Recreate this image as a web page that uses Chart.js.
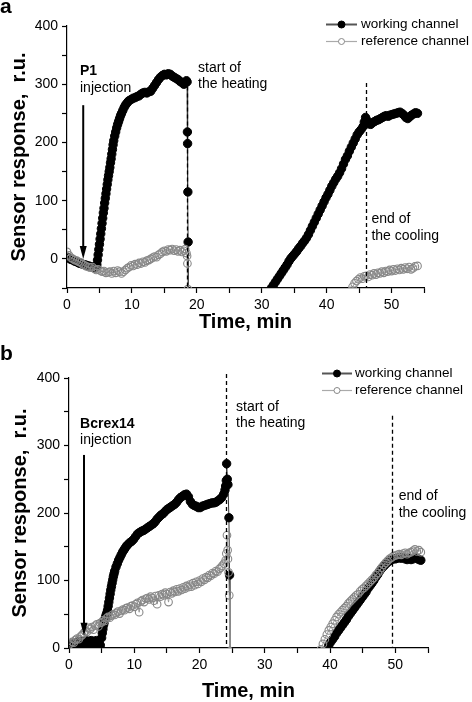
<!DOCTYPE html>
<html><head><meta charset="utf-8">
<script src="https://cdn.jsdelivr.net/npm/chart.js@4/dist/chart.umd.min.js"></script>
<style>
html,body{margin:0;padding:0;background:#fff;}
#wrap{position:relative;width:472px;height:702px;overflow:hidden;}
canvas{position:absolute;left:0;}
#c1{top:0;}
#c2{top:340px;}
</style></head><body>
<div id="wrap"><canvas id="c1" width="472" height="340"></canvas><canvas id="c2" width="472" height="362"></canvas></div>
<script>
// ---------------- data ----------------
const seriesLabels = ['working channel', 'reference channel'];
const axisTitleX = 'Time, min';
const axisTitleY = 'Sensor response,  r.u.';

// panel a (P1): [time min, response r.u.]
const aWorking = [
[0,3],[0.3,1],[0.6,-1],[0.9,-2],[1.2,-4],[1.5,-5],[1.8,-7],[2.1,-8],[2.4,-9],[2.7,-10],[3.0,-11],[3.3,-12],[3.6,-13],[3.9,-14],[4.2,-15],[4.5,-14],
[4.6,-10],[4.7,-2],[4.8,7],[4.9,16],[5.0,25],[5.1,34],[5.2,43],[5.3,52],[5.4,61],[5.5,70],[5.6,79],[5.7,87],[5.8,96],[5.9,104],[6.0,112],[6.1,120],[6.2,128],[6.3,136],[6.4,143],[6.5,150],[6.6,157],[6.7,165],[6.8,172],[6.9,180],[7.0,188],[7.1,196],[7.2,203],[7.35,211],[7.5,218],[7.65,225],[7.8,231],[7.95,236],[8.1,241],[8.25,246],[8.4,250],[8.6,255],[8.8,260],[9.0,264],[9.2,267],[9.4,270],[9.6,272],[9.9,274],[10.2,276],[10.5,277],[10.8,279],[11.1,280],[11.4,283],[11.7,285],[12.0,286],[12.3,285],[12.6,287],[12.9,288],[13.2,293],[13.5,298],[13.8,303],[14.1,308],[14.4,312],[14.7,315],[15.0,317],[15.3,316],[15.6,318],[15.9,317],[16.2,314],[16.5,312],[16.8,310],[17.1,308],[17.4,305],[17.7,303],[18.0,300],[18.2,302],[18.4,306],[18.5,304],
[18.55,218],[18.58,198],[18.62,115],[18.66,29],[18.72,-60],[25,null],
[31.3,-60],[31.5,-50],[31.8,-45],[32.1,-40],[32.4,-35],[32.7,-30],[33.0,-25],[33.3,-20],[33.6,-15],[33.9,-10],[34.2,-4],[34.5,1],[34.8,5],[35.1,9],[35.4,13],[35.7,18],[36.0,22],[36.3,27],[36.6,31],[36.9,36],[37.2,42],[37.5,49],[37.8,56],[38.1,63],[38.4,70],[38.7,77],[39.0,84],[39.3,91],[39.6,98],[39.9,105],[40.2,111],[40.5,118],[40.8,125],[41.1,131],[41.4,137],[41.7,142],[42.0,148],[42.3,155],[42.6,163],[42.9,171],[43.2,177],[43.5,185],[43.8,192],[44.1,199],[44.4,206],[44.7,213],[45.0,218],[45.3,222],[45.6,227],[45.8,235],[46.0,243],[46.2,238],[46.5,232],[46.8,231],[47.1,234],[47.4,236],[47.7,238],[48.0,239],[48.3,241],[48.6,243],[48.9,245],[49.2,246],[49.5,245],[49.8,247],[50.1,248],[50.4,249],[50.7,250],[51.0,251],[51.3,252],[51.6,250],[51.9,247],[52.2,243],[52.5,241],[52.8,244],[53.1,247],[53.4,249],[53.7,251],[54.0,250]
];
const aReference = [
[0,12],[0.3,6],[0.6,2],[0.9,0],[1.2,-2],[1.5,-3],[1.8,-5],[2.1,-6],[2.4,-9],[2.7,-11],[3.0,-13],[3.3,-14],[3.6,-15],[3.9,-14],[4.2,-17],[4.5,-19],[4.8,-18],[5.1,-20],[5.4,-22],[5.7,-21],[6.0,-24],[6.3,-23],[6.6,-22],[6.9,-25],[7.2,-21],[7.5,-24],[7.8,-20],[8.1,-22],[8.4,-25],[8.7,-22],[9.0,-19],[9.3,-16],[9.6,-14],[9.9,-11],[10.2,-12],[10.5,-9],[10.8,-10],[11.1,-7],[11.4,-8],[11.7,-5],[12.0,-6],[12.3,-3],[12.6,-2],[12.9,0],[13.2,2],[13.5,4],[13.8,3],[14.1,7],[14.4,9],[14.7,12],[15.0,14],[15.3,13],[15.6,16],[15.9,15],[16.2,17],[16.5,14],[16.8,16],[17.1,13],[17.4,15],[17.7,12],[18.0,14],[18.2,17],[18.4,10],[18.5,5],[18.55,-8],[18.62,-52],[25,null],
[43.8,-55],[44.0,-48],[44.3,-42],[44.6,-38],[44.9,-35],[45.2,-32],[45.5,-34],[45.8,-30],[46.1,-29],[46.4,-31],[46.7,-27],[47.0,-28],[47.3,-25],[47.6,-27],[47.9,-24],[48.2,-25],[48.5,-22],[48.8,-24],[49.1,-21],[49.4,-22],[49.7,-19],[50.0,-21],[50.3,-18],[50.6,-20],[50.9,-17],[51.2,-19],[51.5,-16],[51.8,-18],[52.1,-15],[52.4,-17],[52.7,-14],[53.0,-18],[53.3,-16],[53.6,-13],[54.0,-12]
];

// panel b (Bcrex14): [time min, response r.u.]
const bWorking = [
[0,3],[0.2,6],[0.4,2],[0.6,7],[0.8,4],[1.0,8],[1.2,3],[1.4,9],[1.6,5],[1.8,10],[2.0,4],[2.2,9],[2.4,6],[2.6,11],[2.8,5],[3.0,10],[3.2,6],[3.4,11],[3.6,5],[3.8,10],[4.0,6],[4.2,11],[4.4,5],[4.6,9],[4.8,4],
[5.0,15],[5.1,22],[5.2,28],[5.3,34],[5.4,38],[5.5,42],[5.6,46],[5.7,49],[5.8,52],[5.9,56],[6.0,62],[6.1,68],[6.2,74],[6.3,80],[6.4,86],[6.5,91],[6.6,96],[6.7,101],[6.8,106],[6.9,110],[7.0,114],[7.2,120],[7.4,125],[7.6,130],[7.8,134],[8.0,138],[8.2,142],[8.4,145],[8.6,148],[8.8,151],[9.0,153],[9.3,156],[9.6,158],[9.9,161],[10.2,165],[10.5,169],[10.8,171],[11.1,173],[11.4,174],[11.7,176],[12.0,178],[12.3,180],[12.6,182],[12.9,184],[13.2,187],[13.5,191],[13.8,194],[14.1,197],[14.4,199],[14.7,202],[15.0,205],[15.3,207],[15.6,209],[15.9,211],[16.2,213],[16.5,216],[16.8,220],[17.1,223],[17.4,225],[17.7,227],[18.0,228],[18.3,224],[18.6,217],[18.9,213],[19.2,211],[19.5,210],[19.8,208],[20.1,208],[20.4,210],[20.7,211],[21.0,212],[21.3,213],[21.6,214],[21.9,215],[22.2,215],[22.5,216],[22.8,218],[23.1,220],[23.4,223],[23.7,228],[23.9,234],[24.0,240],[24.1,248],[24.15,273],[24.25,250],[24.35,242],[24.5,193],[24.6,108],[24.65,-5],[30,null],
[39.5,-3],[39.8,4],[40.1,9],[40.4,13],[40.7,17],[41.0,22],[41.3,26],[41.6,30],[41.9,34],[42.2,38],[42.5,42],[42.8,47],[43.1,51],[43.4,55],[43.7,59],[44.0,63],[44.3,67],[44.6,71],[44.9,75],[45.2,79],[45.5,83],[45.8,88],[46.1,92],[46.4,96],[46.7,100],[47.0,105],[47.3,109],[47.6,114],[47.9,118],[48.2,121],[48.5,124],[48.8,127],[49.1,129],[49.4,131],[49.7,132],[50.0,132],[50.3,133],[50.6,134],[50.9,133],[51.2,134],[51.5,132],[51.8,131],[52.1,133],[52.4,131],[52.7,132],[53.0,134],[53.3,133],[53.6,131],[53.9,130]
];
const bReference = [
[0,5],[0.25,7],[0.5,9],[0.75,8],[1.0,12],[1.25,14],[1.5,13],[1.75,17],[2.0,19],[2.25,22],[2.5,25],[2.75,24],[3.0,30],[3.25,28],[3.5,31],[3.75,27],[4.0,33],[4.25,35],[4.5,32],[4.75,37],[5.0,38],[5.25,41],[5.5,40],[5.75,44],[6.0,46],[6.25,45],[6.5,48],[6.75,50],[7.0,49],[7.25,52],[7.5,54],[7.75,51],[8.0,55],[8.25,57],[8.5,56],[8.75,59],[9.0,60],[9.25,58],[9.5,62],[9.75,63],[10.0,61],[10.25,65],[10.5,67],[10.75,53],[11.0,69],[11.25,71],[11.5,68],[11.75,73],[12.0,74],[12.25,72],[12.5,76],[12.75,74],[13.0,70],[13.25,77],[13.5,65],[13.75,78],[14.0,76],[14.25,80],[14.5,78],[14.75,82],[15.0,80],[15.25,68],[15.5,83],[15.75,81],[16.0,85],[16.25,83],[16.5,87],[16.75,84],[17.0,88],[17.25,86],[17.5,90],[17.75,88],[18.0,92],[18.25,90],[18.5,94],[18.75,91],[19.0,96],[19.25,93],[19.5,98],[19.75,95],[20.0,100],[20.25,98],[20.5,103],[20.75,101],[21.0,105],[21.25,104],[21.5,108],[21.75,107],[22.0,111],[22.25,110],[22.5,114],[22.75,113],[23.0,117],[23.25,119],[23.5,122],[23.75,125],[24.0,130],[24.1,140],[24.2,167],[24.3,145],[24.35,132],[24.45,112],[24.55,78],[24.65,-5],[30,null],
[38.6,-2],[38.9,6],[39.2,13],[39.5,20],[39.8,26],[40.1,31],[40.4,36],[40.7,41],[41.0,46],[41.3,50],[41.6,53],[41.9,56],[42.2,59],[42.5,62],[42.8,66],[43.1,69],[43.4,72],[43.7,75],[44.0,78],[44.3,80],[44.6,84],[44.9,87],[45.2,89],[45.5,92],[45.8,95],[46.1,98],[46.4,101],[46.7,104],[47.0,108],[47.3,111],[47.6,115],[47.9,119],[48.2,123],[48.5,126],[48.8,129],[49.1,132],[49.4,134],[49.7,136],[50.0,137],[50.3,138],[50.6,139],[50.9,138],[51.2,140],[51.5,141],[51.8,139],[52.1,141],[52.4,142],[52.7,144],[53.0,146],[53.3,143],[53.6,145],[53.9,142]
];

// ---------------- drawing ----------------
const FONT = 'Arial, "Liberation Sans", Helvetica, sans-serif';

const decor = {
  id: 'decor',
  afterDatasetsDraw(chart, args, o) {
    const {ctx} = chart;
    const x = chart.scales.x, y = chart.scales.y;
    ctx.save();
    ctx.strokeStyle = '#000'; ctx.fillStyle = '#000';
    // dashed markers
    ctx.lineWidth = 1.3; ctx.setLineDash([4, 3]);
    o.dashed.forEach(d => {
      const px = Math.round(x.getPixelForValue(d.x)) + 0.5;
      ctx.beginPath(); ctx.moveTo(px, y.getPixelForValue(d.from)); ctx.lineTo(px, y.getPixelForValue(d.to)); ctx.stroke();
    });
    ctx.setLineDash([]);
    // injection arrow
    const a = o.arrow;
    const ax = x.getPixelForValue(a.x), y0 = y.getPixelForValue(a.from), y1 = y.getPixelForValue(a.to);
    ctx.lineWidth = 2;
    ctx.beginPath(); ctx.moveTo(ax, y0); ctx.lineTo(ax, y1 - 10); ctx.stroke();
    ctx.beginPath(); ctx.moveTo(ax - 3.5, y1 - 13); ctx.lineTo(ax + 3.5, y1 - 13); ctx.lineTo(ax, y1); ctx.closePath(); ctx.fill();
    // texts
    ctx.textAlign = 'left'; ctx.textBaseline = 'alphabetic';
    o.texts.forEach(t => {
      ctx.font = (t.bold ? 'bold ' : '') + '14px ' + FONT;
      ctx.fillText(t.text, x.getPixelForValue(t.x), y.getPixelForValue(t.y));
    });
    // legend
    const L = o.legend;
    chart.data.datasets.forEach((ds, i) => {
      const ly = L.ys[i] + 0.5;
      ctx.strokeStyle = ds.legendLine; ctx.lineWidth = ds.legendLineWidth;
      ctx.beginPath(); ctx.moveTo(L.x1, ly); ctx.lineTo(L.x2, ly); ctx.stroke();
      const mx = (L.x1 + L.x2) / 2;
      ctx.beginPath(); ctx.arc(mx, ly, ds.legendRadius, 0, Math.PI * 2);
      ctx.fillStyle = ds.legendFill; ctx.fill();
      ctx.strokeStyle = ds.pointBorderColor; ctx.lineWidth = 1; ctx.stroke();
      ctx.fillStyle = '#000'; ctx.font = '13.5px ' + FONT; ctx.textBaseline = 'middle';
      ctx.fillText(ds.label, L.textX, ly);
    });
    // panel letter
    ctx.textBaseline = 'alphabetic';
    ctx.font = 'bold 21px ' + FONT; ctx.fillStyle = '#000';
    ctx.fillText(o.letter, 0, o.letterY);
    ctx.restore();
  }
};

function makeDatasets(work, ref) {
  return [
    {
      label: seriesLabels[0],
      data: work.map(p => ({x: p[0], y: p[1]})),
      borderColor: '#333', borderWidth: 1,
      pointRadius: 4.2, pointBackgroundColor: '#000', pointBorderColor: '#000', pointBorderWidth: 1,
      legendLine: '#555', legendLineWidth: 2, legendFill: '#000', legendRadius: 3.5,
      order: 1, spanGaps: false, tension: 0
    },
    {
      label: seriesLabels[1],
      data: ref.map(p => ({x: p[0], y: p[1]})),
      borderColor: '#999', borderWidth: 1,
      pointRadius: 3.8, pointBackgroundColor: 'rgba(255,255,255,0)', pointBorderColor: '#888', pointBorderWidth: 1.1,
      legendLine: '#aaa', legendLineWidth: 1.2, legendFill: '#fff', legendRadius: 3,
      order: 0, spanGaps: false, tension: 0
    }
  ];
}

function makeChart(canvasId, cfg) {
  const H = cfg.height;
  return new Chart(document.getElementById(canvasId), {
    type: 'line',
    data: { datasets: makeDatasets(cfg.work, cfg.ref) },
    plugins: [decor],
    options: {
      responsive: false, animation: false, events: [],
      layout: { padding: { left: 0, top: cfg.area.top, right: 472 - cfg.area.right, bottom: 0 } },
      plugins: {
        legend: { display: false }, tooltip: { enabled: false },
        decor: cfg.decor
      },
      scales: {
        x: {
          type: 'linear', min: 0, max: 55,
          afterFit: s => { s.height = H - cfg.area.bottom; },
          border: { display: true, color: '#000', width: 1.2 },
          grid: { display: true, drawOnChartArea: false, drawTicks: true, tickLength: 5, tickColor: '#000', tickWidth: 1.2 },
          ticks: { stepSize: 5, includeBounds: false, autoSkip: false, maxRotation: 0, color: '#000',
                   font: { family: FONT, size: 14 }, padding: 4,
                   callback: v => (v % 10 === 0 ? String(v) : '') },
          title: { display: true, text: axisTitleX, color: '#000',
                   font: { family: FONT, size: 20, weight: 'bold', lineHeight: 1.1 },
                   padding: { top: 0, bottom: cfg.xTitlePad } }
        },
        y: {
          type: 'linear', min: cfg.ymin, max: 400,
          afterFit: s => { s.width = cfg.area.left; },
          border: { display: true, color: '#000', width: 1.2 },
          grid: { display: true, drawOnChartArea: false, drawTicks: true, tickLength: 5, tickColor: '#000', tickWidth: 1.2 },
          ticks: { stepSize: 50, includeBounds: false, autoSkip: false, color: '#000',
                   font: { family: FONT, size: 14 }, padding: 4,
                   callback: v => (v % 100 === 0 ? String(v) : '') },
          title: { display: true, text: axisTitleY, color: '#000',
                   font: { family: FONT, size: 20, weight: 'bold', lineHeight: 1.2 },
                   padding: { top: cfg.yTitlePad, bottom: 0 } }
        }
      }
    }
  });
}

makeChart('c1', {
  height: 340, work: aWorking, ref: aReference, ymin: -50,
  area: { left: 67, right: 424, top: 26, bottom: 288 },
  xTitlePad: 7, yTitlePad: 7,
  decor: {
    letter: 'a', letterY: 13,
    dashed: [ {x: 18.5, from: 308, to: -50}, {x: 46, from: 302, to: -50} ],
    arrow: { x: 2.5, from: 264, to: 0 },
    texts: [
      {x: 2.0, y: 315, text: 'P1', bold: true}, {x: 2.0, y: 287, text: 'injection'},
      {x: 20.2, y: 321, text: 'start of'}, {x: 20.2, y: 294, text: 'the heating'},
      {x: 46.9, y: 62, text: 'end of'}, {x: 46.9, y: 32, text: 'the cooling'}
    ],
    legend: { ys: [24, 41], x1: 326, x2: 357, textX: 361 }
  }
});

makeChart('c2', {
  height: 362, work: bWorking, ref: bReference, ymin: 0,
  area: { left: 69, right: 428, top: 38, bottom: 308 },
  xTitlePad: 0, yTitlePad: 8,
  decor: {
    letter: 'b', letterY: 20,
    dashed: [ {x: 24.0, from: 406, to: 0}, {x: 49.5, from: 344, to: 0} ],
    arrow: { x: 2.3, from: 286, to: 18 },
    texts: [
      {x: 1.7, y: 326, text: 'Bcrex14', bold: true}, {x: 1.7, y: 302, text: 'injection'},
      {x: 25.6, y: 351, text: 'start of'}, {x: 25.6, y: 327, text: 'the heating'},
      {x: 50.5, y: 219, text: 'end of'}, {x: 50.5, y: 194, text: 'the cooling'}
    ],
    legend: { ys: [33, 50], x1: 322, x2: 352, textX: 355 }
  }
});
</script>
</body></html>
